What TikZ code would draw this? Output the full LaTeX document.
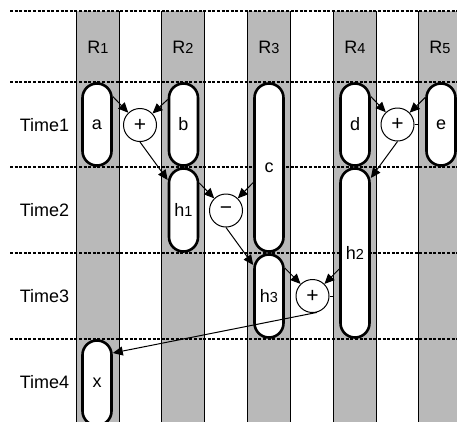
\documentclass[tikz,border=0pt]{standalone}
\usepackage{fontspec}
\setmainfont{Liberation Sans}
\usetikzlibrary{arrows.meta}
\newcommand\subd[1]{{\fontsize{14.5}{14.5}\selectfont #1}}
\definecolor{colgray}{RGB}{185,185,185}
\tikzset{
  colfill/.style={fill=colgray, draw=none, minimum width=42pt, minimum height=420pt, anchor=north, inner sep=0pt},
  colline/.style={line width=1.2pt, draw=black},
  dashline/.style={line width=2pt, dash pattern=on 3pt off 1.6pt},
  lab/.style={font=\fontsize{18}{18}\selectfont, inner sep=0pt},
  pill/.style={draw, line width=2.6pt, fill=white, rounded corners=14.4pt, minimum width=29pt, inner sep=0pt, font=\fontsize{18}{18}\selectfont},
  opc/.style={draw, circle, line width=1pt, fill=white, minimum size=33pt, inner sep=0pt, font=\fontsize{21}{21}\selectfont},
  arr/.style={line width=1pt, -{Triangle[length=10pt,width=9pt]}},
  thin/.style={line width=1pt}
}
\begin{document}
\begin{tikzpicture}[x=1pt,y=-1pt]
\useasboundingbox (0,0) rectangle (457,421);
% columns
\node[colfill] (col1) at (98,11) {};
\node[colfill] (col2) at (183,11) {};
\node[colfill] (col3) at (269,11) {};
\node[colfill] (col4) at (355,11) {};
\node[colfill] (col5) at (440,11) {};
\foreach \c in {col1,col2,col3,col4,col5}{
  \draw[colline] (\c.north west) -- (\c.south west);
  \draw[colline] (\c.north east) -- (\c.south east);
}
% dashed rows
\foreach \y in {11,82,167,253,339}{
  \draw[dashline] (10,\y) -- (457,\y);
}
% headers
\node[lab] (r1) at (98,47) {R\subd{1}};
\node[lab] (r2) at (183,47) {R\subd{2}};
\node[lab] (r3) at (269,47) {R\subd{3}};
\node[lab] (r4) at (355,47) {R\subd{4}};
\node[lab] (r5) at (440,47) {R\subd{5}};
\node[lab] (t1) at (44.5,125) {Time1};
\node[lab] (t2) at (44.5,210) {Time2};
\node[lab] (t3) at (44.5,296) {Time3};
\node[lab] (t4) at (44.5,382) {Time4};
% pills
\node[pill, minimum height=82pt] (a) at (97,124.5) {a};
\node[pill, minimum height=82pt] (b) at (183.5,124.5) {b};
\node[pill, minimum height=168pt] (c) at (269,167.5) {c};
\node[pill, minimum height=82pt] (d) at (355,124.5) {d};
\node[pill, minimum height=82pt] (e) at (441,124.5) {e};
\node[pill, minimum height=83pt] (h1) at (183.5,210) {h\subd{1}};
\node[pill, minimum height=169pt] (h2) at (355,253) {h\subd{2}};
\node[pill, minimum height=83pt] (h3) at (269,296) {h\subd{3}};
\node[pill, minimum height=85pt] (x) at (97,383) {x};
% operators
\node[opc] (c1) at (140,125) {+};
\node[opc] (c2) at (226,210.5) {−};
\node[opc] (c3) at (312.5,296) {+};
\node[opc] (c4) at (397.5,124.5) {+};
% connectors
\draw[arr] ([yshift=28pt]a.east) -- (c1);
\draw[arr] ([yshift=25pt]b.west) -- (c1);
\draw[arr] (c1.south) -- ([yshift=30pt]h1.west);
\draw[arr] ([yshift=27pt]h1.east) -- (c2);
\draw[arr] ([yshift=-15pt]c.west) -- (c2);
\draw[arr] (c2.south) -- ([yshift=31pt]h3.west);
\draw[arr] ([yshift=28pt]h3.east) -- (c3);
\draw[arr] ([yshift=-16pt]h2.west) -- (c3);
\draw[thin] (c3.east) -- (c3.east -| col4.west);
\draw[arr] (c3.-75) -- ([yshift=30pt]x.east);
\draw[arr] ([yshift=28pt]d.east) -- (c4);
\draw[arr] ([yshift=27pt]e.west) -- (c4);
\draw[arr] (c4.south) -- ([yshift=75pt]h2.east);
\draw[thin] (c4.east) -- (c4.east -| col5.west);
\end{tikzpicture}
\end{document}
